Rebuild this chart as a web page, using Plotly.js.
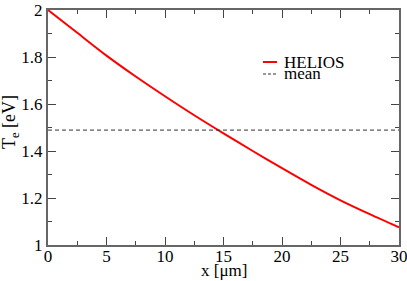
<!DOCTYPE html>
<html>
<head>
<meta charset="utf-8">
<script src="https://cdn.plot.ly/plotly-3.0.1.min.js"></script>
<style>html,body{margin:0;padding:0;background:#fff;}#chart{width:407px;height:281px;}</style>
</head>
<body>
<div id="chart"></div>
<script>
const xPos = [0, 2.5, 5, 7.5, 10, 12.5, 15, 17.5, 20, 22.5, 25, 27.5, 30];
const teHelios = [2.0, 1.903, 1.806, 1.717, 1.633, 1.552, 1.475, 1.400, 1.327, 1.256, 1.190, 1.131, 1.075];
const meanValue = 1.489;
const meanX = [0, 30];
const xTickVals = [0, 5, 10, 15, 20, 25, 30];
const yTickVals = [1, 1.2, 1.4, 1.6, 1.8, 2];
const yTickText = ['1', '1.2', '1.4', '1.6', '1.8', '2'];
const legendNames = ['HELIOS', 'mean'];
const xTitle = 'x [μm]';
const yTitle = 'T<sub>e</sub> [eV]';

const serif = 'Liberation Serif';
const axisCommon = {
  showline: true, linecolor: '#666', linewidth: 2, mirror: 'allticks',
  ticks: 'inside', ticklen: 8, tickwidth: 1, tickcolor: '#444',
  showgrid: false, zeroline: false, ticklabeloverflow: 'allow',
  tickfont: {family: serif, size: 17, color: '#000'}
};

const data = [
  {x: xPos, y: teHelios, type: 'scatter', mode: 'lines', name: legendNames[0],
   line: {color: '#ff0000', width: 2, shape: 'spline', smoothing: 0.8}},
  {x: meanX, y: [meanValue, meanValue], type: 'scatter', mode: 'lines', name: legendNames[1],
   line: {color: '#333', width: 1, dash: '4px,3px'}}
];

const W = 407, H = 281, ML = 48, MR = 8, MT = 10, MB = 36;
const PW = W - ML - MR, PH = H - MT - MB;
const px = v => (v - ML) / PW, py = v => 1 - (v - MT) / PH;
const legX0 = 263, legX1 = 277;

const layout = {
  width: W, height: H,
  margin: {l: ML, r: MR, t: MT, b: MB},
  paper_bgcolor: '#fff', plot_bgcolor: '#fff',
  font: {family: serif},
  showlegend: false,
  shapes: [
    {type: 'line', xref: 'paper', yref: 'paper', x0: px(legX0), x1: px(legX1), y0: py(62), y1: py(62),
     line: {color: '#ff0000', width: 2}},
    {type: 'line', xref: 'paper', yref: 'paper', x0: px(legX0), x1: px(legX1), y0: py(74), y1: py(74),
     line: {color: '#333', width: 1, dash: '3px,2px'}}
  ],
  annotations: [
    {xref: 'paper', yref: 'paper', x: px(282), y: py(62.7), xanchor: 'left', yanchor: 'middle',
     text: legendNames[0], showarrow: false, font: {family: serif, size: 17, color: '#000'}},
    {xref: 'paper', yref: 'paper', x: px(282), y: py(73), xanchor: 'left', yanchor: 'middle',
     text: legendNames[1], showarrow: false, font: {family: serif, size: 17, color: '#000'}},
    {xref: 'paper', yref: 'paper', x: px(10), y: py(122), xanchor: 'center', yanchor: 'middle',
     textangle: -90, text: yTitle, showarrow: false, font: {family: serif, size: 18, color: '#000'}},
    {xref: 'paper', yref: 'paper', x: px(224), y: py(270.5), xanchor: 'center', yanchor: 'middle',
     text: xTitle, showarrow: false, font: {family: serif, size: 17, color: '#000'}}
  ],
  xaxis: Object.assign({}, axisCommon, {
    range: [0, 30.0001], tickvals: xTickVals, ticklabelstandoff: -5,
    minor: {dtick: 2.5, ticks: 'inside', ticklen: 4, tickcolor: '#444'}
  }),
  yaxis: Object.assign({}, axisCommon, {
    range: [1, 2], tickvals: yTickVals, ticktext: yTickText,
    minor: {dtick: 0.1, ticks: 'inside', ticklen: 4, tickcolor: '#444'}
  })
};

Plotly.newPlot('chart', data, layout, {displayModeBar: false, staticPlot: true});
</script>
</body>
</html>
